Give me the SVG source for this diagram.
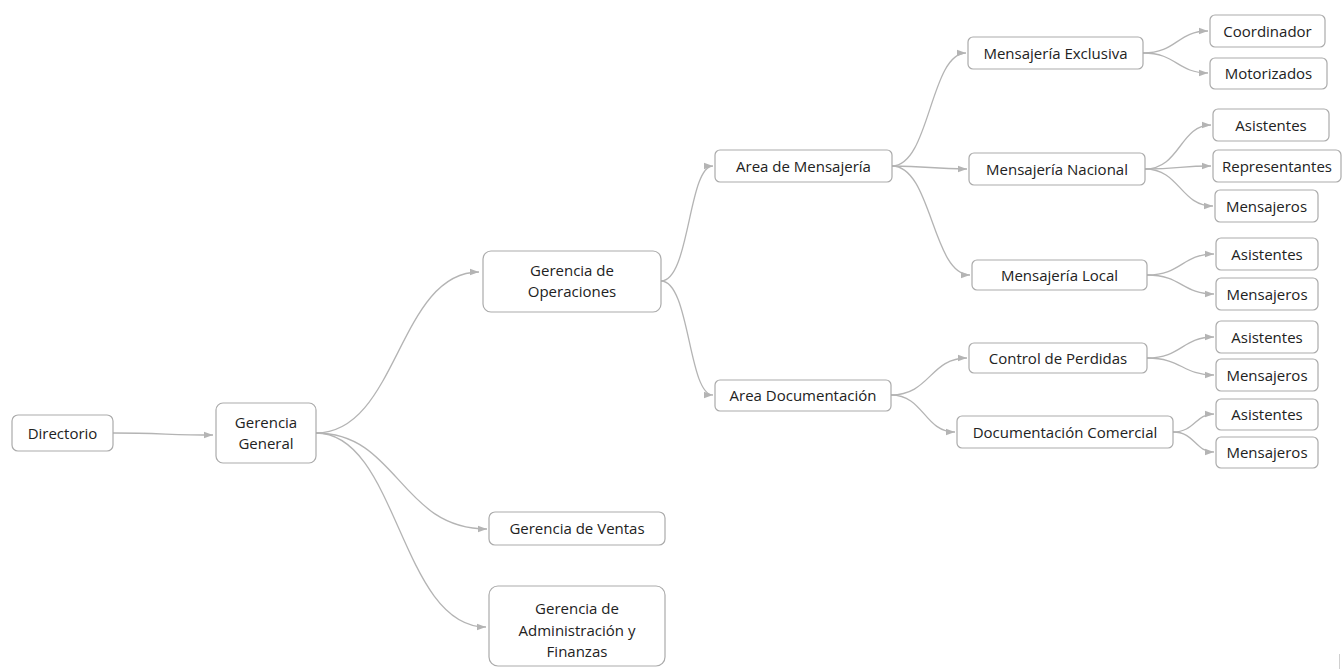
<svg xmlns="http://www.w3.org/2000/svg" width="1343" height="669" viewBox="0 0 1343 669">
  <style>
    .box { fill: #ffffff; stroke: #ababab; stroke-width: 1.2; }
    .lbl { font-family: "Open Sans", "Noto Sans", "Liberation Sans", sans-serif; font-size: 15px; fill: #222222; text-anchor: middle; }
    .edge { fill: none; stroke: #b4b4b4; stroke-width: 1.3; marker-end: url(#arr); }
  </style>
  <defs>
    <marker id="arr" markerUnits="userSpaceOnUse" markerWidth="10" markerHeight="8" refX="9" refY="4" orient="auto">
      <path d="M0,0.8 L9,4 L0,7.2 Z" fill="#b4b4b4"/>
    </marker>
  </defs>
  <rect width="1343" height="669" fill="#ffffff"/>

  <!-- connectors: cubic curves from parent right-centre to child left-centre -->
  <g id="connectors">
    <path class="edge" d="M113,433 C160,433 170,435 213,435"/>
    <path class="edge" d="M316,433 C398,433 398,272 479,272"/>
    <path class="edge" d="M316,433 C398,433 400,529 487,529"/>
    <path class="edge" d="M316,433 C398,433 400,627 486,627"/>
    <path class="edge" d="M661,281 C690,281 688,166 713,166"/>
    <path class="edge" d="M661,281 C690,281 688,395 713,395"/>
    <path class="edge" d="M892,166 C930,166 930,53 966,53"/>
    <path class="edge" d="M892,166 C930,166 930,169 967,169"/>
    <path class="edge" d="M892,166 C932,166 932,275 970,275"/>
    <path class="edge" d="M891,395 C930,395 930,358 967,358"/>
    <path class="edge" d="M891,395 C924,395 924,432 955,432"/>
    <path class="edge" d="M1143,53 C1177,53 1177,31 1208,31"/>
    <path class="edge" d="M1143,53 C1177,53 1177,73 1208,73"/>
    <path class="edge" d="M1145,169 C1180,169 1180,125 1211,125"/>
    <path class="edge" d="M1145,169 C1180,169 1180,166 1211,166"/>
    <path class="edge" d="M1145,169 C1180,169 1180,206 1213,206"/>
    <path class="edge" d="M1147,275 C1182,275 1182,254 1214,254"/>
    <path class="edge" d="M1147,275 C1182,275 1182,294 1214,294"/>
    <path class="edge" d="M1147,358 C1182,358 1182,337 1214,337"/>
    <path class="edge" d="M1147,358 C1182,358 1182,375 1214,375"/>
    <path class="edge" d="M1173,432 C1195,432 1195,414 1214,414"/>
    <path class="edge" d="M1173,432 C1195,432 1195,452 1214,452"/>
  </g>

  <g id="directorio">
    <rect class="box" x="12" y="415" width="101" height="36" rx="6"/>
    <text class="lbl" x="62.5" y="438.5">Directorio</text>
  </g>
  <g id="gerencia-general">
    <rect class="box" x="216" y="403" width="100" height="60" rx="7"/>
    <text class="lbl" x="266" y="428">Gerencia</text>
    <text class="lbl" x="266" y="449">General</text>
  </g>
  <g id="gerencia-operaciones">
    <rect class="box" x="483" y="251" width="178" height="61" rx="8"/>
    <text class="lbl" x="572" y="276">Gerencia de</text>
    <text class="lbl" x="572" y="297">Operaciones</text>
  </g>
  <g id="gerencia-ventas">
    <rect class="box" x="489" y="512" width="176" height="33" rx="6"/>
    <text class="lbl" x="577" y="533.5">Gerencia de Ventas</text>
  </g>
  <g id="gerencia-administracion">
    <rect class="box" x="489" y="586" width="176" height="80" rx="9"/>
    <text class="lbl" x="577" y="614">Gerencia de</text>
    <text class="lbl" x="577" y="635.5">Administración y</text>
    <text class="lbl" x="577" y="657">Finanzas</text>
  </g>
  <g id="area-mensajeria">
    <rect class="box" x="715" y="150" width="177" height="32" rx="5"/>
    <text class="lbl" x="803.5" y="171.5">Area de Mensajería</text>
  </g>
  <g id="area-documentacion">
    <rect class="box" x="715" y="380" width="176" height="31" rx="5"/>
    <text class="lbl" x="803" y="400.5">Area Documentación</text>
  </g>
  <g id="mensajeria-exclusiva">
    <rect class="box" x="968" y="37" width="175" height="32" rx="5"/>
    <text class="lbl" x="1055.5" y="59">Mensajería Exclusiva</text>
  </g>
  <g id="mensajeria-nacional">
    <rect class="box" x="969" y="153" width="176" height="32" rx="5"/>
    <text class="lbl" x="1057" y="174.5">Mensajería Nacional</text>
  </g>
  <g id="mensajeria-local">
    <rect class="box" x="972" y="260" width="175" height="30" rx="5"/>
    <text class="lbl" x="1059.5" y="280.5">Mensajería Local</text>
  </g>
  <g id="control-perdidas">
    <rect class="box" x="969" y="343" width="178" height="30" rx="5"/>
    <text class="lbl" x="1058" y="363.5">Control de Perdidas</text>
  </g>
  <g id="documentacion-comercial">
    <rect class="box" x="957" y="416" width="216" height="32" rx="5"/>
    <text class="lbl" x="1065" y="437.5">Documentación Comercial</text>
  </g>
  <g id="coordinador">
    <rect class="box" x="1210" y="15" width="115" height="32" rx="5"/>
    <text class="lbl" x="1267.5" y="36.5">Coordinador</text>
  </g>
  <g id="motorizados">
    <rect class="box" x="1210" y="58" width="117" height="31" rx="5"/>
    <text class="lbl" x="1268.5" y="78.5">Motorizados</text>
  </g>
  <g id="nacional-asistentes">
    <rect class="box" x="1213" y="109" width="116" height="32" rx="5"/>
    <text class="lbl" x="1271" y="130.5">Asistentes</text>
  </g>
  <g id="nacional-representantes">
    <rect class="box" x="1213" y="150" width="128" height="32" rx="5"/>
    <text class="lbl" x="1277" y="171.5">Representantes</text>
  </g>
  <g id="nacional-mensajeros">
    <rect class="box" x="1215" y="190" width="103" height="32" rx="5"/>
    <text class="lbl" x="1266.5" y="211.5">Mensajeros</text>
  </g>
  <g id="local-asistentes">
    <rect class="box" x="1216" y="238" width="102" height="32" rx="5"/>
    <text class="lbl" x="1267" y="259.5">Asistentes</text>
  </g>
  <g id="local-mensajeros">
    <rect class="box" x="1216" y="278" width="102" height="32" rx="5"/>
    <text class="lbl" x="1267" y="299.5">Mensajeros</text>
  </g>
  <g id="perdidas-asistentes">
    <rect class="box" x="1216" y="321" width="102" height="32" rx="5"/>
    <text class="lbl" x="1267" y="342.5">Asistentes</text>
  </g>
  <g id="perdidas-mensajeros">
    <rect class="box" x="1216" y="359" width="102" height="32" rx="5"/>
    <text class="lbl" x="1267" y="380.5">Mensajeros</text>
  </g>
  <g id="comercial-asistentes">
    <rect class="box" x="1216" y="399" width="102" height="31" rx="5"/>
    <text class="lbl" x="1267" y="419.5">Asistentes</text>
  </g>
  <g id="comercial-mensajeros">
    <rect class="box" x="1216" y="437" width="102" height="31" rx="5"/>
    <text class="lbl" x="1267" y="457.5">Mensajeros</text>
  </g>

  <!-- faint mark at lower-right corner -->
  <line x1="1339.5" y1="654" x2="1339.5" y2="669" stroke="#d0d0d0" stroke-width="1"/>
</svg>
